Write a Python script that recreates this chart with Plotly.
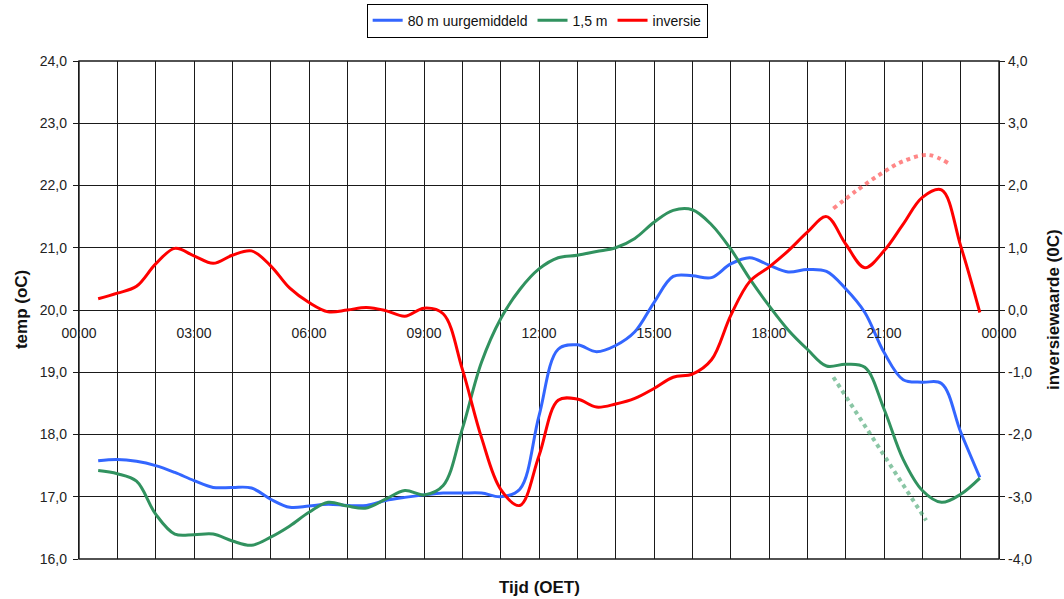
import plotly.graph_objects as go

# Tijdstippen (uren na middernacht, halfuurlijks)
tijd_uur = [0.5, 1.0, 1.5, 2.0, 2.5, 3.0, 3.5, 4.0, 4.5, 5.0, 5.5, 6.0,
            6.5, 7.0, 7.5, 8.0, 8.5, 9.0, 9.5, 10.0, 10.5, 11.0, 11.5, 12.0,
            12.5, 13.0, 13.5, 14.0, 14.5, 15.0, 15.5, 16.0, 16.5, 17.0, 17.5, 18.0,
            18.5, 19.0, 19.5, 20.0, 20.5, 21.0, 21.5, 22.0, 22.5, 23.0, 23.5]

# Temperatuur op 80 m (uurgemiddeld), in graden C
temp_80m = [17.58, 17.60, 17.57, 17.50, 17.39, 17.26, 17.15, 17.15, 17.14, 16.96, 16.83, 16.85,
            16.88, 16.86, 16.86, 16.94, 16.99, 17.03, 17.06, 17.06, 17.06, 17.00, 17.12, 18.30,
            19.37, 19.44, 19.33, 19.43, 19.65, 20.12, 20.54, 20.55, 20.52, 20.74, 20.84, 20.72,
            20.61, 20.65, 20.62, 20.34, 19.96, 19.32, 18.88, 18.84, 18.82, 18.04, 17.31]

# Temperatuur op 1,5 m, in graden C
temp_1_5m = [17.42, 17.37, 17.25, 16.72, 16.40, 16.39, 16.40, 16.29, 16.22, 16.35, 16.53, 16.75,
             16.91, 16.85, 16.82, 16.96, 17.10, 17.03, 17.18, 18.09, 19.16, 19.86, 20.33, 20.66,
             20.84, 20.88, 20.94, 21.00, 21.15, 21.41, 21.60, 21.61, 21.37, 20.98, 20.50, 20.07,
             19.68, 19.37, 19.10, 19.13, 19.08, 18.41, 17.60, 17.10, 16.91, 17.04, 17.30]

# Inversiewaarde (verschil 80 m - 1,5 m)
inversie = [0.18, 0.27, 0.38, 0.74, 0.99, 0.87, 0.75, 0.88, 0.95, 0.71, 0.35, 0.12,
            -0.03, 0.00, 0.04, -0.01, -0.10, 0.03, -0.06, -0.95, -2.05, -2.88, -3.14, -2.34,
            -1.45, -1.43, -1.56, -1.51, -1.42, -1.26, -1.08, -1.03, -0.80, -0.09, 0.46, 0.69,
            0.95, 1.25, 1.50, 1.06, 0.68, 0.95, 1.38, 1.81, 1.93, 1.03, -0.04]

# Gestippelde trendlijnen voor de avond
inversie_trend_uur = [19.68, 20.29, 20.90, 21.50, 22.16, 22.70]
inversie_trend = [1.63, 1.92, 2.18, 2.39, 2.49, 2.35]
temp_trend_uur = [19.68, 22.10]
temp_trend = [18.92, 16.62]

# As-labels
x_tickvals = [0, 3, 6, 9, 12, 15, 18, 21, 24]
x_ticktext = ["00:00", "03:00", "06:00", "09:00", "12:00", "15:00", "18:00", "21:00", "00:00"]
y2_tickvals = [-4, -3, -2, -1, 0, 1, 2, 3, 4]
y2_ticktext = ["-4,0", "-3,0", "-2,0", "-1,0", "0,0", "1,0", "2,0", "3,0", "4,0"]

BLAUW = "#3366ff"
GROEN = "#31925f"
ROOD = "#ff0000"
GRID = "#1a1a1a"
FONT = "Arial, 'Liberation Sans', sans-serif"

fig = go.Figure()

fig.add_trace(go.Scatter(
    x=tijd_uur, y=temp_80m, name="80 m uurgemiddeld", mode="lines",
    line=dict(color=BLAUW, width=3, shape="spline", smoothing=1.0),
))
fig.add_trace(go.Scatter(
    x=tijd_uur, y=temp_1_5m, name="1,5 m", mode="lines",
    line=dict(color=GROEN, width=3, shape="spline", smoothing=1.0),
))
fig.add_trace(go.Scatter(
    x=tijd_uur, y=inversie, name="inversie", mode="lines", yaxis="y2",
    line=dict(color=ROOD, width=3, shape="spline", smoothing=1.0),
))
fig.add_trace(go.Scatter(
    x=temp_trend_uur, y=temp_trend, mode="lines", showlegend=False, hoverinfo="skip",
    line=dict(color="rgba(60,160,105,0.6)", width=4, dash="4px,4px"),
))
fig.add_trace(go.Scatter(
    x=inversie_trend_uur, y=inversie_trend, mode="lines", yaxis="y2", showlegend=False,
    hoverinfo="skip",
    line=dict(color="rgba(255,70,70,0.65)", width=4, dash="4px,4px", shape="spline"),
))

fig.update_layout(
    width=1064, height=599,
    margin=dict(l=79, r=65, t=61, b=40, autoexpand=False),
    paper_bgcolor="white", plot_bgcolor="white",
    separators=",.",
    font=dict(family=FONT, size=14, color="#111"),
    showlegend=True,
    legend=dict(
        orientation="h", x=0.498, xanchor="center", y=1.115, yanchor="top",
        bordercolor="#000", borderwidth=1, bgcolor="white",
        font=dict(family=FONT, size=14, color="#111"),
        itemwidth=30, tracegroupgap=0,
    ),
    xaxis=dict(
        range=[0, 24], anchor="free", position=0.5,
        tickmode="array", tickvals=x_tickvals, ticktext=x_ticktext,
        ticks="outside", ticklen=10, tickcolor="rgba(0,0,0,0)",
        showline=False, zeroline=False,
        showgrid=True, gridcolor=GRID, gridwidth=1.4,
        minor=dict(dtick=1, tick0=0, showgrid=True, gridcolor=GRID, gridwidth=1.4),
        tickfont=dict(size=14, color="#222"),
    ),
    yaxis=dict(
        range=[16, 24], dtick=1, tick0=16, tickformat=".1f",
        ticks="outside", ticklen=5, tickcolor=GRID, ticklabelstandoff=3,
        showline=True, linecolor=GRID, linewidth=1.4,
        showgrid=True, gridcolor=GRID, gridwidth=1.4, zeroline=False,
        tickfont=dict(size=14, color="#222"),
    ),
    yaxis2=dict(
        range=[-4, 4], overlaying="y", side="right",
        tickmode="array", tickvals=y2_tickvals, ticktext=y2_ticktext,
        ticks="outside", ticklen=5, tickcolor=GRID,
        showline=True, linecolor=GRID, linewidth=1.4,
        showgrid=False, zeroline=False,
        tickfont=dict(size=14, color="#222"),
    ),
    shapes=[dict(type="rect", xref="paper", yref="paper", x0=0, x1=1, y0=0, y1=1,
                 line=dict(color=GRID, width=1.4), layer="above")],
    annotations=[
        dict(text="<b>temp (oC)</b>", xref="paper", yref="paper", x=-0.063, y=0.5,
             textangle=-90, showarrow=False, font=dict(size=17, color="#111"),
             xanchor="center", yanchor="middle"),
        dict(text="<b>inversiewaarde (0C)</b>", xref="paper", yref="paper", x=1.0587, y=0.5,
             textangle=-90, showarrow=False, font=dict(size=17, color="#111"),
             xanchor="center", yanchor="middle"),
        dict(text="<b>Tijd (OET)</b>", xref="paper", yref="paper", x=0.5, y=-0.058,
             showarrow=False, font=dict(size=17, color="#111"),
             xanchor="center", yanchor="middle"),
    ],
)

fig.write_html("out.html")
